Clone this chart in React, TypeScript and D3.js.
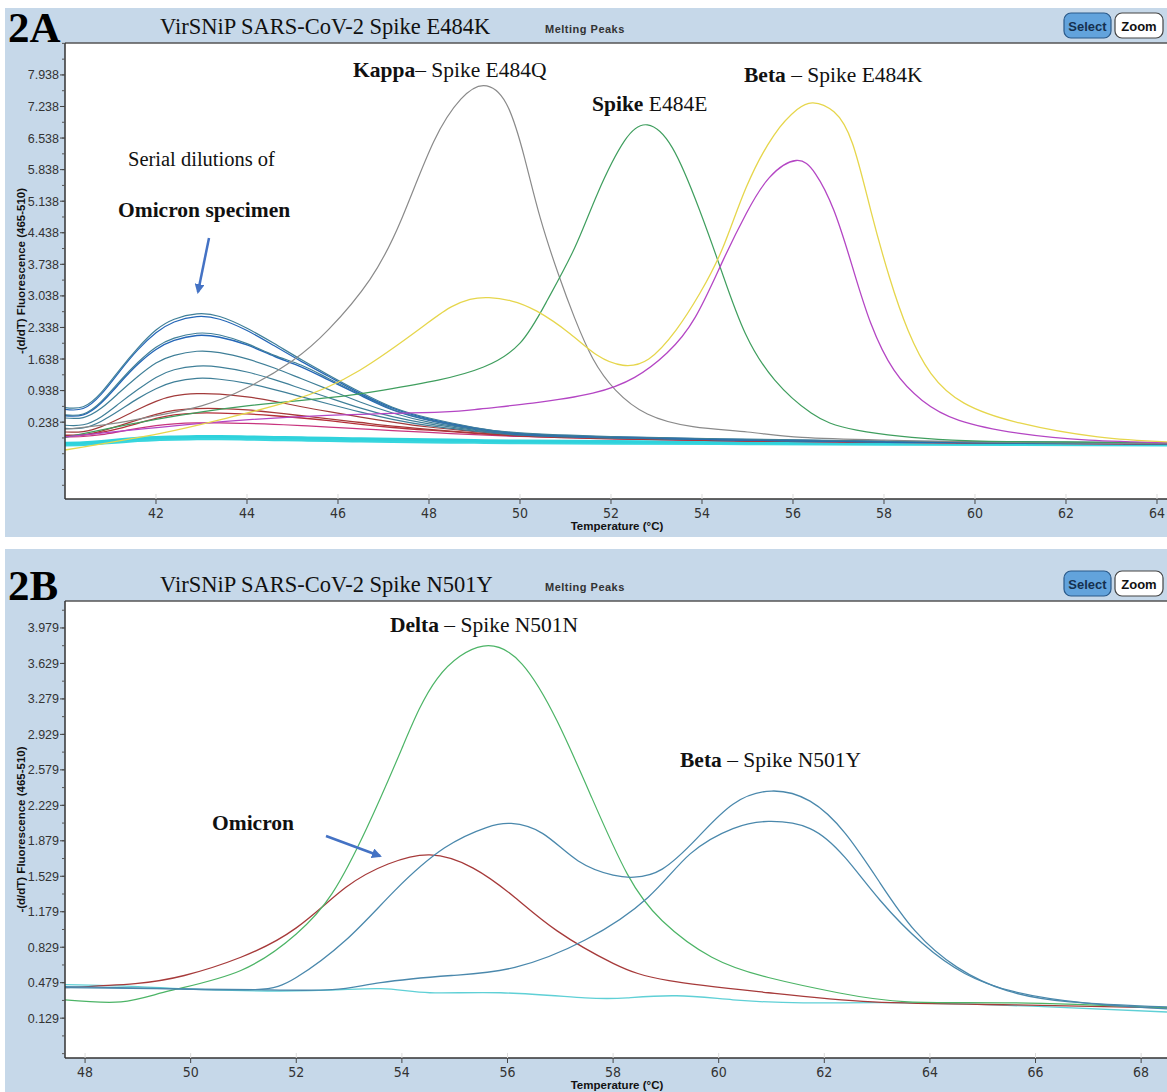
import React from "react";
import * as d3 from "d3";

// ---------- Panel A : VirSNiP SARS-CoV-2 Spike E484K ----------
const yTicksA = [0.238, 0.938, 1.638, 2.338, 3.038, 3.738, 4.438, 5.138, 5.838, 6.538, 7.238, 7.938];
const xTicksA = [42, 44, 46, 48, 50, 52, 54, 56, 58, 60, 62, 64];

const kappaT = [40, 41, 42, 43, 44, 45, 45.8, 46.7, 47.4, 48.1, 48.7, 49.2, 49.7, 50.1, 50.45, 50.85, 51.2, 51.6, 52.1, 52.8, 53.8, 55, 56.2, 58, 60, 62, 64.22];
const kappaV = [0.08, 0.2, 0.38, 0.6, 1.0, 1.6, 2.3, 3.4, 4.75, 6.45, 7.4, 7.7, 7.3, 6.1, 4.75, 3.5, 2.55, 1.65, 0.95, 0.42, 0.14, 0.02, -0.1, -0.16, -0.2, -0.22, -0.24];

const e484eT = [40, 42, 44, 45.8, 47, 48.2, 49.2, 50, 50.6, 51.2, 51.7, 52.3, 52.8, 53.35, 53.95, 54.45, 54.95, 55.6, 56.4, 57.4, 59.5, 62, 64.22];
const e484eV = [-0.1, 0.3, 0.6, 0.78, 0.95, 1.17, 1.46, 1.99, 2.94, 4.1, 5.3, 6.48, 6.83, 6.32, 4.93, 3.53, 2.21, 1.17, 0.44, 0.06, -0.16, -0.2, -0.22];

const betaYellowT = [40, 42.1, 43.56, 45.0, 46.48, 47.96, 48.5, 48.9, 49.32, 49.8, 50.37, 51.1, 51.7, 52.26, 52.83, 53.43, 53.95, 54.46, 54.97, 55.58, 56.09, 56.44, 56.9, 57.31, 57.71, 58.12, 58.53, 59.03, 59.76, 60.98, 62.7, 64.22];
const betaYellowV = [-0.38, -0.01, 0.33, 0.72, 1.39, 2.43, 2.8, 2.96, 3.0, 2.93, 2.7, 2.2, 1.72, 1.5, 1.64, 2.28, 3.09, 4.11, 5.44, 6.6, 7.17, 7.32, 7.12, 6.41, 4.93, 3.45, 2.27, 1.32, 0.66, 0.22, -0.09, -0.2];

const betaPurpleT = [40, 43, 45.76, 48.24, 49.12, 50.28, 51.6, 52.52, 53.23, 53.85, 54.46, 54.97, 55.48, 56.07, 56.49, 56.9, 57.31, 57.71, 58.22, 58.84, 59.65, 60.98, 62.5, 64.22];
const betaPurpleV = [-0.09, 0.21, 0.39, 0.46, 0.53, 0.66, 0.88, 1.23, 1.77, 2.56, 3.82, 4.86, 5.66, 6.04, 5.75, 4.93, 3.67, 2.43, 1.39, 0.72, 0.28, -0.01, -0.16, -0.22];

// Omicron serial dilutions, all read on the same temperature grid
const omicronT = [40, 40.4, 40.8, 41.2, 41.6, 42, 42.4, 42.9, 43.4, 44, 44.6, 45.2, 45.8, 46.5, 47.2, 48, 49, 50, 52, 55, 58, 61, 64.22];
const dil1 = [0.56, 0.58, 0.9, 1.4, 1.88, 2.28, 2.52, 2.64, 2.58, 2.32, 1.98, 1.62, 1.28, 0.9, 0.57, 0.33, 0.12, 0.0, -0.08, -0.14, -0.18, -0.2, -0.22];
const dil2 = [0.52, 0.54, 0.86, 1.36, 1.84, 2.22, 2.46, 2.58, 2.52, 2.27, 1.93, 1.58, 1.25, 0.87, 0.55, 0.31, 0.11, -0.01, -0.09, -0.15, -0.19, -0.21, -0.23];
const dil3 = [0.4, 0.42, 0.7, 1.14, 1.56, 1.9, 2.1, 2.21, 2.17, 1.98, 1.72, 1.5, 1.2, 0.85, 0.52, 0.29, 0.09, -0.02, -0.1, -0.15, -0.19, -0.21, -0.23];
const dil4 = [0.38, 0.4, 0.67, 1.1, 1.52, 1.85, 2.05, 2.16, 2.12, 1.95, 1.7, 1.46, 1.17, 0.83, 0.51, 0.28, 0.09, -0.03, -0.1, -0.16, -0.2, -0.22, -0.24];
const dil5 = [0.33, 0.34, 0.55, 0.9, 1.25, 1.55, 1.72, 1.81, 1.78, 1.64, 1.44, 1.2, 0.96, 0.68, 0.44, 0.24, 0.08, -0.03, -0.1, -0.16, -0.2, -0.22, -0.24];
const dil6 = [0.17, 0.18, 0.36, 0.66, 0.96, 1.23, 1.4, 1.48, 1.46, 1.35, 1.18, 0.98, 0.78, 0.55, 0.36, 0.2, 0.06, -0.04, -0.11, -0.16, -0.2, -0.22, -0.24];
const dil7 = [0.1, 0.11, 0.26, 0.5, 0.76, 0.98, 1.13, 1.21, 1.19, 1.1, 0.96, 0.8, 0.64, 0.46, 0.3, 0.16, 0.04, -0.05, -0.11, -0.16, -0.2, -0.22, -0.24];
const dil8 = [0.02, 0.03, 0.14, 0.32, 0.52, 0.7, 0.82, 0.87, 0.86, 0.8, 0.7, 0.58, 0.47, 0.35, 0.24, 0.13, 0.03, -0.05, -0.12, -0.17, -0.2, -0.22, -0.24];
const dil9 = [-0.05, -0.04, 0.04, 0.16, 0.29, 0.41, 0.5, 0.54, 0.54, 0.51, 0.45, 0.38, 0.31, 0.23, 0.15, 0.08, 0.0, -0.06, -0.12, -0.17, -0.2, -0.22, -0.24];
const dil10 = [-0.06, -0.05, 0.01, 0.1, 0.21, 0.32, 0.4, 0.44, 0.44, 0.42, 0.38, 0.33, 0.27, 0.19, 0.12, 0.06, -0.01, -0.07, -0.13, -0.18, -0.21, -0.23, -0.25];
const dil11 = [-0.09, -0.08, -0.04, 0.03, 0.1, 0.16, 0.2, 0.22, 0.22, 0.21, 0.19, 0.16, 0.13, 0.09, 0.05, 0.01, -0.04, -0.08, -0.13, -0.18, -0.21, -0.23, -0.25];
const negCtrl1 = [-0.23, -0.22, -0.19, -0.15, -0.12, -0.1, -0.09, -0.08, -0.08, -0.09, -0.1, -0.11, -0.12, -0.13, -0.14, -0.15, -0.17, -0.18, -0.19, -0.21, -0.22, -0.23, -0.24];
const negCtrl2 = [-0.27, -0.26, -0.23, -0.2, -0.17, -0.15, -0.14, -0.13, -0.13, -0.14, -0.15, -0.16, -0.17, -0.18, -0.19, -0.2, -0.21, -0.22, -0.23, -0.24, -0.25, -0.26, -0.27];

// ---------- Panel B : VirSNiP SARS-CoV-2 Spike N501Y ----------
const yTicksB = [0.129, 0.479, 0.829, 1.179, 1.529, 1.879, 2.229, 2.579, 2.929, 3.279, 3.629, 3.979];
const xTicksB = [48, 50, 52, 54, 56, 58, 60, 62, 64, 66, 68];

const deltaT = [47.62, 48.68, 49.61, 50.95, 52.0, 52.68, 53.34, 54.0, 54.67, 55.54, 56.28, 56.94, 57.6, 58.27, 58.93, 59.87, 60.94, 62.26, 63.59, 65.6, 68.49];
const deltaV = [0.31, 0.29, 0.4, 0.6, 0.96, 1.36, 2.01, 2.79, 3.48, 3.8, 3.62, 3.06, 2.3, 1.55, 1.09, 0.73, 0.53, 0.38, 0.29, 0.28, 0.23];

const omicronBT = [47.62, 48.95, 49.88, 50.95, 52.0, 52.94, 53.74, 54.53, 55.35, 56.14, 56.94, 58.0, 59.06, 60.94, 62.92, 65.6, 68.49];
const omicronBV = [0.43, 0.47, 0.55, 0.73, 1.02, 1.42, 1.65, 1.74, 1.61, 1.32, 0.99, 0.67, 0.5, 0.38, 0.29, 0.26, 0.23];

const betaMixT = [47.62, 49.61, 51.22, 52.0, 52.94, 53.87, 54.81, 55.6, 56.07, 56.67, 57.34, 58.0, 58.4, 58.93, 59.6, 60.27, 61.0, 61.73, 62.4, 63.06, 63.72, 64.52, 65.46, 66.65, 68.49];
const betaMixV = [0.44, 0.42, 0.41, 0.53, 0.9, 1.39, 1.81, 2.01, 2.05, 1.95, 1.68, 1.54, 1.52, 1.6, 1.91, 2.24, 2.37, 2.27, 1.95, 1.46, 0.99, 0.63, 0.4, 0.29, 0.24];

const betaBT = [47.62, 49.3, 51.22, 52.68, 53.6, 54.94, 56.14, 57.47, 58.66, 59.46, 60.27, 60.94, 61.73, 62.4, 63.06, 63.85, 64.66, 65.6, 66.93, 68.49];
const betaBV = [0.43, 0.42, 0.41, 0.41, 0.48, 0.55, 0.63, 0.9, 1.32, 1.75, 2.0, 2.07, 2.0, 1.71, 1.29, 0.87, 0.57, 0.39, 0.28, 0.22];

const negBT = [47.62, 49.0, 50.28, 52.28, 53.6, 54.53, 55.87, 57.47, 58.27, 59.2, 60.27, 61.6, 63.59, 66.26, 68.49];
const negBV = [0.46, 0.44, 0.41, 0.4, 0.42, 0.38, 0.38, 0.33, 0.33, 0.35, 0.31, 0.28, 0.28, 0.24, 0.19];

const BLUE_BG = "#c6d8e9";
const SANS = "'Liberation Sans', Arial, sans-serif";
const NARROW = "'Liberation Sans Narrow', 'DejaVu Sans Condensed', Arial, sans-serif";
const SERIF = "'Liberation Serif', 'Times New Roman', serif";

type Series = { t: number[]; v: number[]; color: string; width: number };

function Panel(props: {
  id: string;
  bgTop: number;
  bgBottom: number;
  plotTop: number;
  plotBottom: number;
  xDomain: [number, number];
  yDomain: [number, number];
  xTicks: number[];
  yTicks: number[];
  series: Series[];
  tag: string;
  title: string;
  children?: React.ReactNode;
}) {
  const left = 65;
  const right = 1167;
  const { plotTop, plotBottom } = props;
  const x = d3.scaleLinear().domain(props.xDomain).range([left, right]);
  const y = d3.scaleLinear().domain(props.yDomain).range([plotBottom, plotTop]);
  const step = (props.yTicks[1] - props.yTicks[0]) / 2;
  const minor = d3
    .range(props.yTicks[0] - step * 10, props.yDomain[1], step)
    .filter((d) => d > props.yDomain[0] && d < props.yDomain[1]);
  const line = (s: Series) =>
    d3
      .line<number>()
      .x((_, i) => x(s.t[i]))
      .y((d) => y(d))
      .curve(d3.curveNatural)(s.v) || "";
  const midY = (plotTop + plotBottom) / 2;
  const hdr = plotTop - 9;
  return (
    <g>
      <rect x={5} y={props.bgTop} width={1162} height={props.bgBottom - props.bgTop} fill={BLUE_BG} />
      <text x={8} y={plotTop - 1} fontFamily={SERIF} fontWeight="bold" fontSize={43} fill="#000">
        {props.tag}
      </text>
      <text x={160} y={hdr} fontFamily={SERIF} fontSize={22.5} fill="#111">
        {props.title}
      </text>
      <text x={545} y={hdr - 1} fontFamily={SANS} fontWeight="bold" fontSize={11} fill="#333" letterSpacing={0.5}>
        Melting Peaks
      </text>
      <rect x={1064} y={plotTop - 30} width={47} height={25} rx={7} fill="#62a3dc" stroke="#2b5a8a" strokeWidth={1.2} />
      <text x={1087.5} y={plotTop - 12.5} textAnchor="middle" fontFamily={SANS} fontWeight="bold" fontSize={13} fill="#15304f">
        Select
      </text>
      <rect x={1115} y={plotTop - 30} width={48} height={25} rx={7} fill="#fff" stroke="#444" strokeWidth={1.2} />
      <text x={1139} y={plotTop - 12.5} textAnchor="middle" fontFamily={SANS} fontWeight="bold" fontSize={13} fill="#111">
        Zoom
      </text>

      <rect x={left} y={plotTop} width={right - left} height={plotBottom - plotTop} fill="#fff" />
      <clipPath id={"clip" + props.id}>
        <rect x={left} y={plotTop} width={right - left} height={plotBottom - plotTop} />
      </clipPath>
      <g clipPath={`url(#clip${props.id})`}>
        {props.series.map((s, i) => (
          <path key={i} d={line(s)} fill="none" stroke={s.color} strokeWidth={s.width} strokeLinejoin="round" />
        ))}
      </g>
      {props.children}

      {/* axes frame */}
      <line x1={left} x2={right} y1={plotTop} y2={plotTop} stroke="#555" strokeWidth={1.5} />
      <line x1={left} x2={left} y1={plotTop} y2={plotBottom} stroke="#333" strokeWidth={1.5} />
      <line x1={left} x2={right} y1={plotBottom} y2={plotBottom} stroke="#333" strokeWidth={1.5} />

      {minor.map((d, i) => (
        <line key={"m" + i} x1={left - 3} x2={left} y1={y(d)} y2={y(d)} stroke="#555" strokeWidth={1} />
      ))}
      {props.yTicks.map((d) => (
        <g key={"y" + d}>
          <line x1={left - 5} x2={left} y1={y(d)} y2={y(d)} stroke="#444" strokeWidth={1} />
          <text x={left - 6} y={y(d) + 4.5} textAnchor="end" fontFamily={SANS} fontSize={12.5} fill="#333">
            {d.toFixed(3)}
          </text>
        </g>
      ))}
      {props.xTicks.map((d) => (
        <g key={"x" + d}>
          <line x1={x(d)} x2={x(d)} y1={plotBottom} y2={plotBottom + 5} stroke="#444" strokeWidth={1} />
          <line x1={x(d)} x2={x(d)} y1={plotBottom - 5} y2={plotBottom} stroke="#ddd" strokeWidth={1} />
          <text x={x(d)} y={plotBottom + 19} textAnchor="middle" fontFamily={NARROW} fontSize={14} fill="#333">
            {d}
          </text>
        </g>
      ))}
      <text x={617} y={plotBottom + 31} textAnchor="middle" fontFamily={SANS} fontWeight="bold" fontSize={11.5} fill="#111">
        Temperature (°C)
      </text>
      <text
        transform={`translate(25,${midY}) rotate(-90)`}
        textAnchor="middle"
        fontFamily={SANS}
        fontWeight="bold"
        fontSize={11.5}
        fill="#111"
      >
        -(d/dT) Fluorescence (465-510)
      </text>
    </g>
  );
}

function Label(props: { x: number; y: number; bold: string; rest: string; size?: number }) {
  return (
    <text x={props.x} y={props.y} fontFamily={SERIF} fontSize={props.size || 21.5} fill="#111">
      <tspan fontWeight="bold">{props.bold}</tspan>
      {props.rest}
    </text>
  );
}

export default function App() {
  const teal = "#3f7f98";
  const dark = "#2466b8";
  const seriesA: Series[] = [
    { t: omicronT, v: negCtrl2, color: "#38d6de", width: 3 },
    { t: omicronT, v: negCtrl1, color: "#2fd2dc", width: 3 },
    { t: omicronT, v: dil11, color: "#c8347e", width: 1.2 },
    { t: omicronT, v: dil10, color: "#b5303a", width: 1.3 },
    { t: omicronT, v: dil9, color: "#a83838", width: 1.3 },
    { t: omicronT, v: dil8, color: "#a23a3a", width: 1.2 },
    { t: omicronT, v: dil7, color: teal, width: 1.2 },
    { t: omicronT, v: dil6, color: teal, width: 1.2 },
    { t: omicronT, v: dil5, color: teal, width: 1.2 },
    { t: omicronT, v: dil4, color: dark, width: 1.4 },
    { t: omicronT, v: dil3, color: teal, width: 1.2 },
    { t: omicronT, v: dil2, color: dark, width: 1.2 },
    { t: omicronT, v: dil1, color: teal, width: 1.2 },
    { t: kappaT, v: kappaV, color: "#8a8a8a", width: 1.2 },
    { t: e484eT, v: e484eV, color: "#3f9e5e", width: 1.2 },
    { t: betaPurpleT, v: betaPurpleV, color: "#b446c4", width: 1.3 },
    { t: betaYellowT, v: betaYellowV, color: "#e6d64c", width: 1.3 },
  ];
  const seriesB: Series[] = [
    { t: negBT, v: negBV, color: "#5fd0d6", width: 1.3 },
    { t: omicronBT, v: omicronBV, color: "#a63a3a", width: 1.3 },
    { t: deltaT, v: deltaV, color: "#4cb466", width: 1.2 },
    { t: betaBT, v: betaBV, color: "#4a88ac", width: 1.3 },
    { t: betaMixT, v: betaMixV, color: "#4a88ac", width: 1.3 },
  ];
  return (
    <svg width={1167} height={1092} style={{ position: "absolute", left: 0, top: 0, background: "#fff" }}>
      <defs>
        <marker id="arrow" viewBox="0 0 10 10" refX={8} refY={5} markerWidth={4} markerHeight={4} orient="auto">
          <path d="M0,0 L10,5 L0,10 z" fill="#4472c4" />
        </marker>
      </defs>
      <Panel
        id="A"
        bgTop={8}
        bgBottom={537}
        plotTop={43}
        plotBottom={499}
        xDomain={[40, 64.22]}
        yDomain={[-1.466, 8.646]}
        xTicks={xTicksA}
        yTicks={yTicksA}
        series={seriesA}
        tag="2A"
        title="VirSNiP SARS-CoV-2 Spike E484K"
      >
        <Label x={353} y={77} bold="Kappa" rest="– Spike E484Q" />
        <Label x={592} y={111} bold="Spike" rest=" E484E" />
        <Label x={744} y={82} bold="Beta" rest=" – Spike E484K" />
        <text x={128} y={166} fontFamily={SERIF} fontSize={20.5} fill="#111">
          Serial dilutions of
        </text>
        <Label x={118} y={217} bold="Omicron specimen" rest="" />
        <line x1={209} y1={238} x2={198} y2={292} stroke="#4472c4" strokeWidth={2.5} markerEnd="url(#arrow)" />
      </Panel>
      <Panel
        id="B"
        bgTop={549}
        bgBottom={1092}
        plotTop={601}
        plotBottom={1058}
        xDomain={[47.62, 68.49]}
        yDomain={[-0.264, 4.245]}
        xTicks={xTicksB}
        yTicks={yTicksB}
        series={seriesB}
        tag="2B"
        title="VirSNiP SARS-CoV-2 Spike N501Y"
      >
        <Label x={390} y={632} bold="Delta" rest=" – Spike N501N" />
        <Label x={680} y={767} bold="Beta" rest=" – Spike N501Y" />
        <Label x={212} y={830} bold="Omicron" rest="" />
        <line x1={326} y1={836} x2={380} y2={856} stroke="#4472c4" strokeWidth={2.5} markerEnd="url(#arrow)" />
      </Panel>
    </svg>
  );
}
